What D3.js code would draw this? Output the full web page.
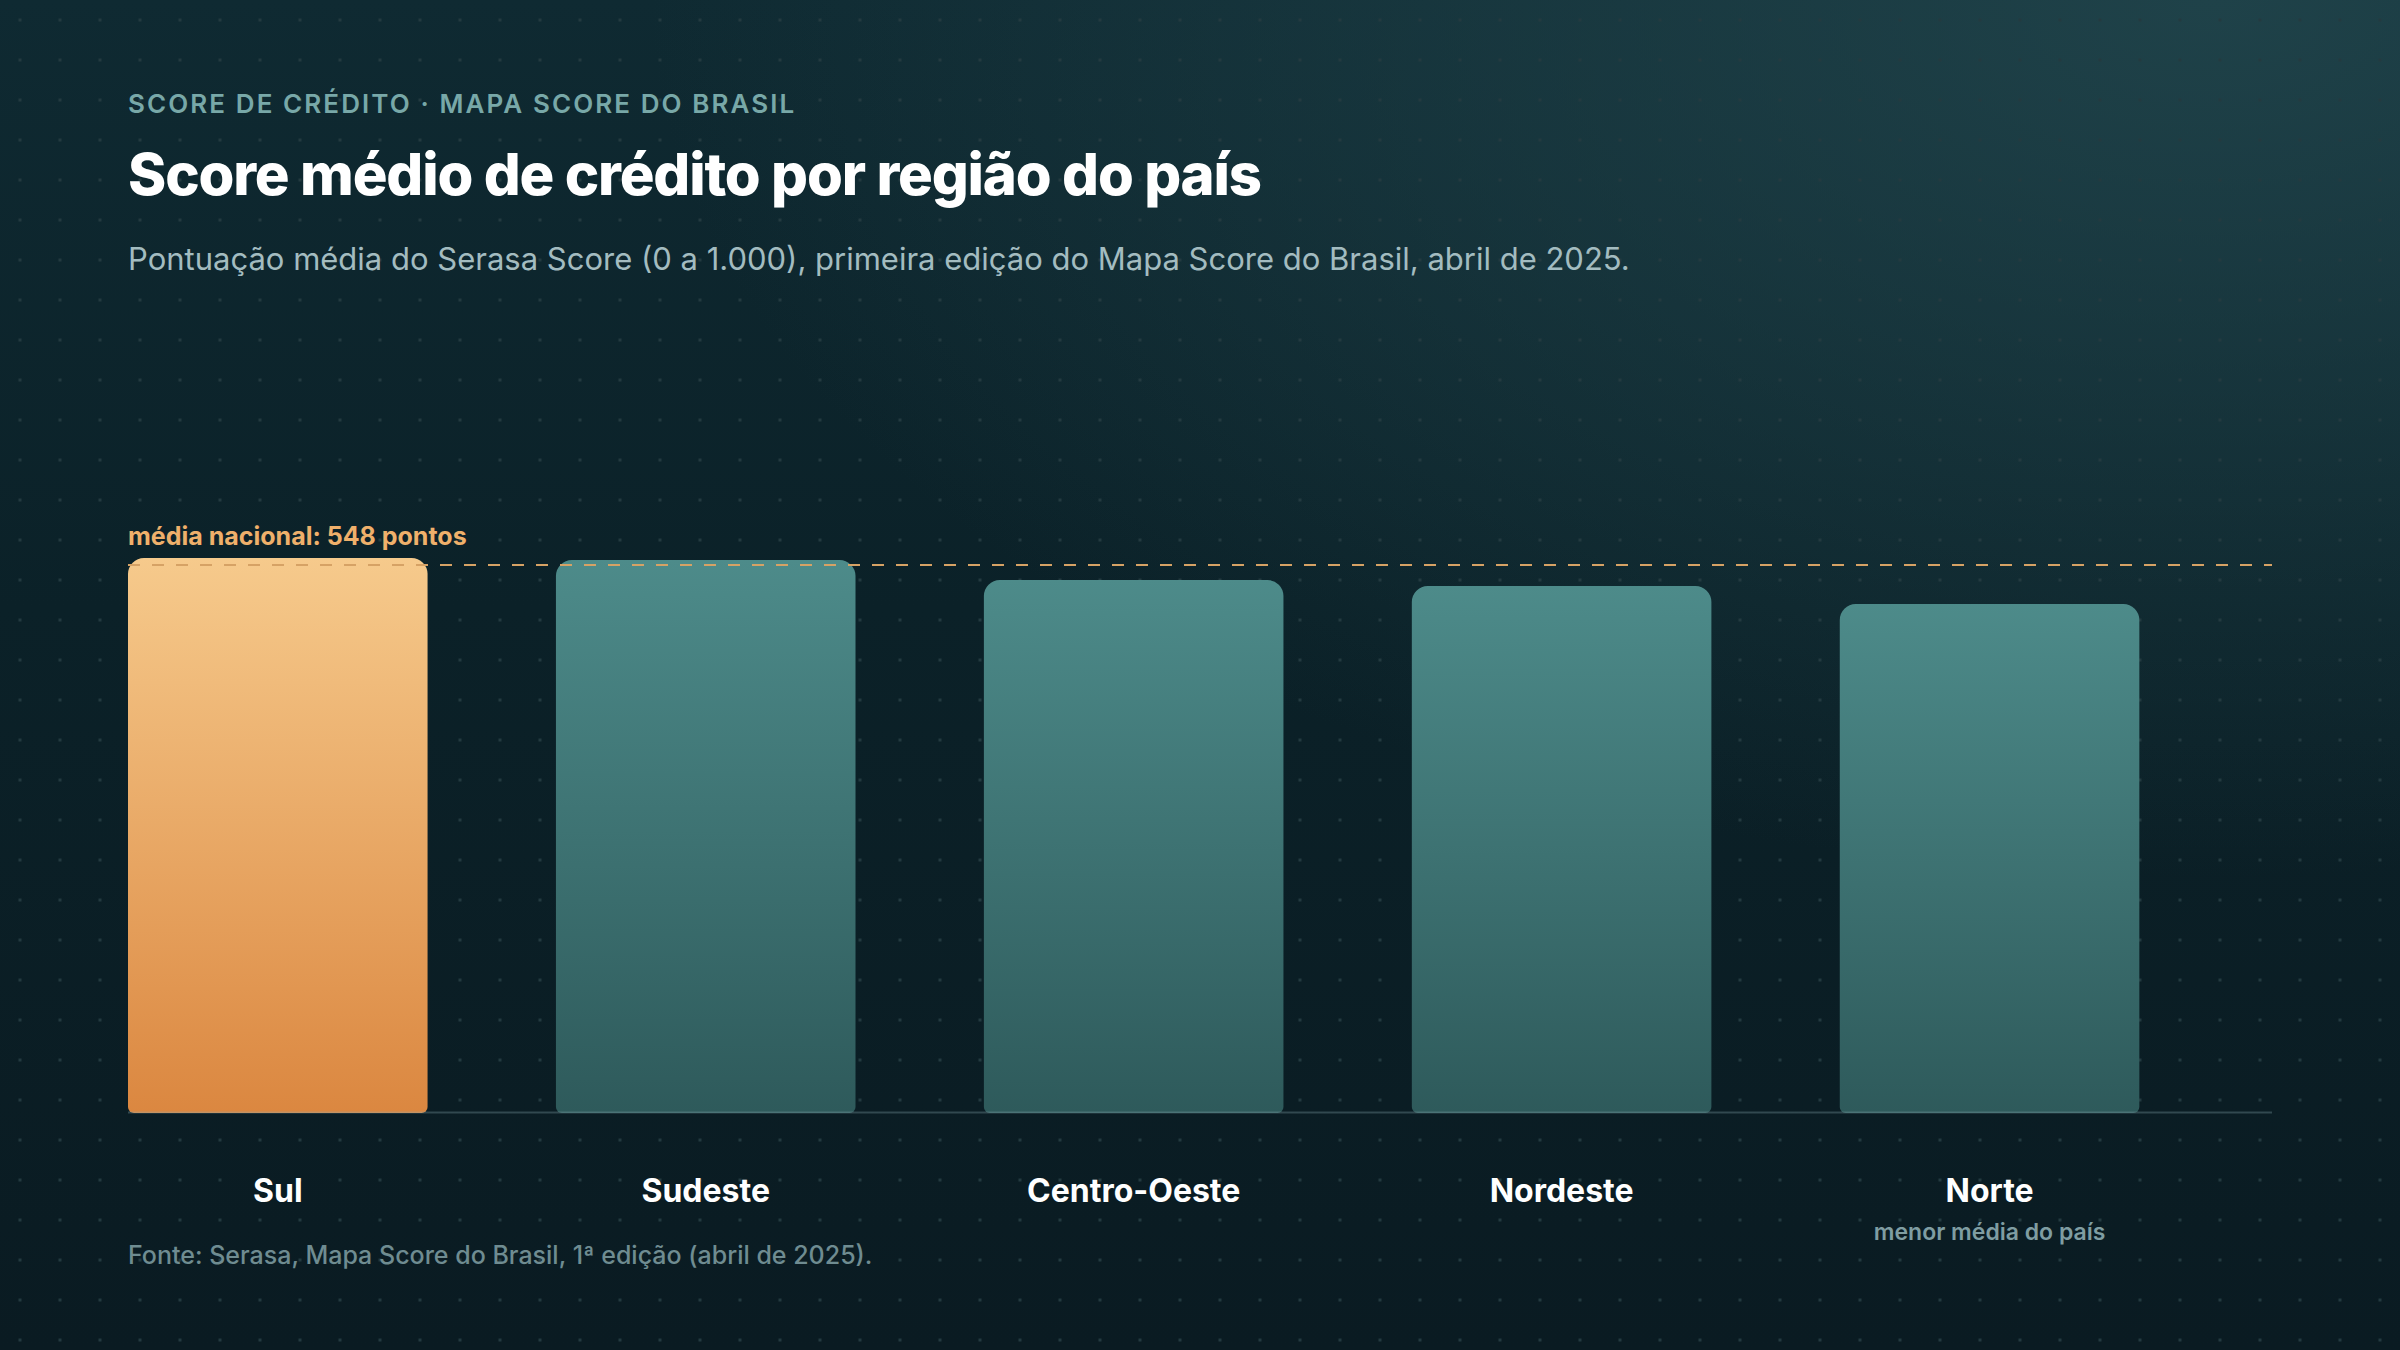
<!DOCTYPE html>
<html>
<head>
<meta charset="utf-8">
<script src="https://cdn.jsdelivr.net/npm/d3@7"></script>
<style>
  html, body { margin: 0; padding: 0; background: #0b1e25; }
  svg { display: block; font-family: Inter, "Noto Sans", sans-serif; }
</style>
</head>
<body>
<div id="chart"></div>
<script>
var regions = ["Sul", "Sudeste", "Centro-Oeste", "Nordeste", "Norte"];
var scores = [555, 553, 533, 527, 509];
var notes = ["", "", "", "", "menor média do país"];
var nationalAvg = 548;

var width = 2400, height = 1350;
var left = 128, right = 2272, baseY = 1113;

var svg = d3.select("#chart").append("svg")
    .attr("width", width)
    .attr("height", height);

var defs = svg.append("defs");

var bg = defs.append("linearGradient").attr("id", "bg")
    .attr("x1", 0).attr("y1", 0).attr("x2", 0).attr("y2", 1);
bg.append("stop").attr("offset", "0%").attr("stop-color", "#0f2a32");
bg.append("stop").attr("offset", "45%").attr("stop-color", "#0b2128");
bg.append("stop").attr("offset", "100%").attr("stop-color", "#0a1b22");

var glow = defs.append("radialGradient").attr("id", "glow")
    .attr("cx", "92%").attr("cy", "0%").attr("r", "65%");
glow.append("stop").attr("offset", "0%").attr("stop-color", "#23484f").attr("stop-opacity", 0.8);
glow.append("stop").attr("offset", "100%").attr("stop-color", "#23484f").attr("stop-opacity", 0);

var hot = defs.append("linearGradient").attr("id", "hot")
    .attr("x1", 0).attr("y1", 0).attr("x2", 0).attr("y2", 1);
hot.append("stop").attr("offset", "0%").attr("stop-color", "#f6ca8c");
hot.append("stop").attr("offset", "100%").attr("stop-color", "#db8740");

var cool = defs.append("linearGradient").attr("id", "cool")
    .attr("x1", 0).attr("y1", 0).attr("x2", 0).attr("y2", 1);
cool.append("stop").attr("offset", "0%").attr("stop-color", "#4d8b8a");
cool.append("stop").attr("offset", "100%").attr("stop-color", "#2e5a5b");

var dots = defs.append("pattern").attr("id", "dots")
    .attr("width", 40).attr("height", 40)
    .attr("patternUnits", "userSpaceOnUse");
dots.append("rect").attr("x", 18.5).attr("y", 18.5)
    .attr("width", 3).attr("height", 3).attr("fill", "#233a40");

svg.append("rect").attr("width", width).attr("height", height).attr("fill", "url(#bg)");
svg.append("rect").attr("width", width).attr("height", height).attr("fill", "url(#glow)");
svg.append("rect").attr("width", width).attr("height", height).attr("fill", "url(#dots)");

// header
svg.append("text")
    .attr("x", left).attr("y", 113)
    .attr("fill", "#78a8a8")
    .attr("font-size", 26).attr("font-weight", 600)
    .attr("letter-spacing", "0.08em")
    .text("SCORE DE CRÉDITO · MAPA SCORE DO BRASIL");

svg.append("text")
    .attr("x", left).attr("y", 195)
    .attr("fill", "#ffffff")
    .attr("font-size", 58).attr("font-weight", 800)
    .attr("letter-spacing", "-0.02em")
    .text("Score médio de crédito por região do país");

svg.append("text")
    .attr("x", left).attr("y", 270)
    .attr("fill", "#a3bcc0")
    .attr("font-size", 31).attr("font-weight", 400)
    .text("Pontuação média do Serasa Score (0 a 1.000), primeira edição do Mapa Score do Brasil, abril de 2025.");

var x = d3.scaleBand()
    .domain(regions)
    .range([left, right])
    .paddingInner(0.3)
    .paddingOuter(0.155)
    .align(0);

var y = d3.scaleLinear()
    .domain([0, 600])
    .range([baseY, baseY - 600]);

function barPath(x0, y0, w, h, rt, rb) {
    var p = d3.path();
    p.moveTo(x0, y0 + rt);
    p.arcTo(x0, y0, x0 + rt, y0, rt);
    p.lineTo(x0 + w - rt, y0);
    p.arcTo(x0 + w, y0, x0 + w, y0 + rt, rt);
    p.lineTo(x0 + w, y0 + h - rb);
    p.arcTo(x0 + w, y0 + h, x0 + w - rb, y0 + h, rb);
    p.lineTo(x0 + rb, y0 + h);
    p.arcTo(x0, y0 + h, x0, y0 + h - rb, rb);
    p.closePath();
    return p.toString();
}

var data = regions.map(function(r, i) {
    return { region: r, score: scores[i], note: notes[i] };
});

svg.append("g").selectAll("path")
    .data(data)
    .join("path")
    .attr("d", function(d) {
        return barPath(x(d.region), y(d.score), x.bandwidth(), baseY - y(d.score), 16, 6);
    })
    .attr("fill", function(d, i) { return i == 0 ? "url(#hot)" : "url(#cool)"; });

// baseline
svg.append("line")
    .attr("x1", left).attr("x2", right)
    .attr("y1", baseY - 0.5).attr("y2", baseY - 0.5)
    .attr("stroke", "#8fb0b5").attr("stroke-opacity", 0.3)
    .attr("stroke-width", 2);

// national average
svg.append("line")
    .attr("x1", left).attr("x2", right)
    .attr("y1", y(nationalAvg)).attr("y2", y(nationalAvg))
    .attr("stroke", "#d6a265")
    .attr("stroke-width", 2)
    .attr("stroke-dasharray", "12 12");

svg.append("text")
    .attr("x", left).attr("y", y(nationalAvg) - 20)
    .attr("fill", "#efb06b")
    .attr("font-size", 25).attr("font-weight", 700)
    .text("média nacional: " + nationalAvg + " pontos");

// category labels
var labels = svg.append("g").selectAll("g")
    .data(data)
    .join("g")
    .attr("transform", function(d) { return "translate(" + (x(d.region) + x.bandwidth() / 2) + ",0)"; });

labels.append("text")
    .attr("y", 1202)
    .attr("text-anchor", "middle")
    .attr("fill", "#ffffff")
    .attr("font-size", 32).attr("font-weight", 700)
    .text(function(d) { return d.region; });

labels.filter(function(d) { return d.note; })
    .append("text")
    .attr("y", 1240)
    .attr("text-anchor", "middle")
    .attr("fill", "#7f9da2")
    .attr("font-size", 23).attr("font-weight", 600)
    .text(function(d) { return d.note; });

svg.append("text")
    .attr("x", left).attr("y", 1264)
    .attr("fill", "#6f8c91")
    .attr("font-size", 25).attr("font-weight", 500)
    .text("Fonte: Serasa, Mapa Score do Brasil, 1ª edição (abril de 2025).");
</script>
</body>
</html>
